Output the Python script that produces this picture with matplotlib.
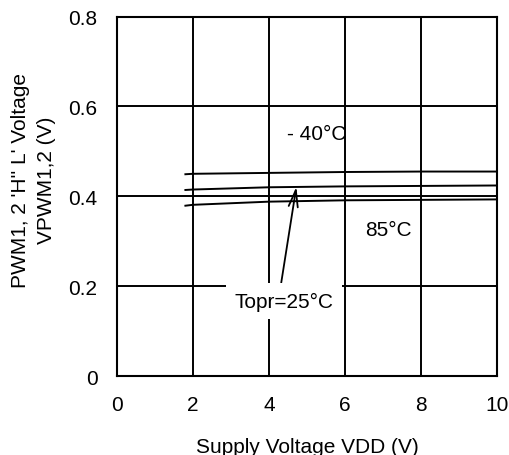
import matplotlib
matplotlib.use("Agg")
import matplotlib.pyplot as plt

plt.rcParams['font.family'] = ['Liberation Sans', 'DejaVu Sans']

vdd = [1.8, 2, 4, 6, 8, 10]
v_m40 = [0.449, 0.450, 0.452, 0.454, 0.455, 0.455]
v_25 = [0.414, 0.415, 0.420, 0.422, 0.423, 0.424]
v_85 = [0.379, 0.381, 0.388, 0.391, 0.392, 0.393]

xticks = [0, 2, 4, 6, 8, 10]
yticks = [0, 0.2, 0.4, 0.6, 0.8]
ytick_labels = ["0", "0.2", "0.4", "0.6", "0.8"]

fs = 15

fig = plt.figure(figsize=(5.1, 4.56), dpi=100)
ax = fig.add_axes([0.2294, 0.1732, 0.7451, 0.7884])

for v in (v_m40, v_25, v_85):
    ax.plot(vdd, v, color="black", lw=1.4)

ax.set_xlim(0, 10)
ax.set_ylim(0, 0.8)
ax.set_xticks(xticks)
ax.set_yticks(yticks)
ax.set_yticklabels(ytick_labels)
ax.tick_params(length=0, labelsize=fs, pad=14)
ax.set_axisbelow(True)
ax.grid(True, color="black", lw=1.4)
for s in ax.spines.values():
    s.set_linewidth(1.5)

ax.set_xlabel("Supply Voltage VDD (V)", fontsize=fs, labelpad=16)
fig.text(0.065, 0.605, "PWM1, 2 'H'' L' Voltage\nVPWM1,2 (V)", rotation=90,
         ha="center", va="center", fontsize=fs, linespacing=1.45,
         multialignment="center")

ax.text(4.47, 0.539, "- 40°C", fontsize=fs, ha="left", va="center")
ax.text(6.53, 0.326, "85°C", fontsize=fs, ha="left", va="center")
ax.annotate("Topr=25°C", xy=(4.72, 0.421), xytext=(4.39, 0.167),
            fontsize=fs, ha="center", va="center",
            bbox=dict(boxstyle="square,pad=0.42", fc="white", ec="none"),
            arrowprops=dict(arrowstyle="->,head_length=0.8,head_width=0.22",
                            color="black", lw=1.3, relpos=(0.46, 1.0),
                            shrinkA=0, shrinkB=0))

fig.savefig("out.png", dpi=100)
